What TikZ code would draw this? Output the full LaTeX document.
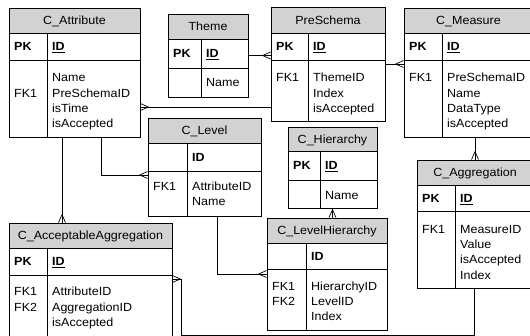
\documentclass[tikz,border=0pt]{standalone}
\usepackage{fontspec}
\setmainfont{Liberation Sans}[FakeStretch=1.06]
\usetikzlibrary{fit}
\definecolor{hdr}{RGB}{210,210,210}
\tikzset{
  tblline/.style={line width=0.8pt, draw=black},
  tblbox/.style={draw=black, line width=0.8pt, inner sep=0pt, rectangle},
  conn/.style={draw=black, line width=0.7pt},
  txt/.style={inner sep=0pt, font=\fontsize{11.8}{15}\selectfont},
  bf/.style={txt, font=\fontsize{11.8}{15}\selectfont\bfseries}
}
% #1 id, #2 x0, #3 y0, #4 x1, #5 y1, #6 xd, #7 yh, #8 yk, #9 title
\newcommand\ertable[9]{%
  \fill[hdr] (#2,#3) rectangle (#4,#7);
  \draw[tblline] (#2,#7) -- (#4,#7) (#2,#8) -- (#4,#8) (#6,#7) -- (#6,#5);
  \node[tblbox, fit={(#2,#3) (#4,#5)}] (#1) {};
  \node[txt, anchor=base] (#1-title) at ({(#2+#4)/2},{(#3+#7)/2+4.3}) {#9};
}
% #1 id, #2 x0, #3 xd, #4 baseline y, #5 pk text, #6 id text
\newcommand\keyrow[6]{%
  \node[bf, anchor=base west] (#1-pk) at ({#2+5},#4) {#5};
  \node[bf, anchor=base west] (#1-id) at ({#3+5},#4) {#6};
}
% #1 id, #2 x, #3 first baseline, #4 list
\newcommand\lines[4]{%
  \foreach \t [count=\i from 0] in {#4}
    \node[txt, anchor=base west] (#1-\i) at (#2,{#3+15.2*\i}) {\t};
}
\newcommand\crowft[2]{%
  \draw[conn, shift={(#1)}, rotate=#2] (-8,0) -- (0,3.5) (-8,0) -- (0,-3.5);
}
\begin{document}
\begin{tikzpicture}[x=1pt, y=-1pt]
\path[use as bounding box] (0,0) rectangle (530,336);
\clip (0,0) rectangle (530,336);
\fill[white] (0,0) rectangle (530,336);

% C_Attribute
\ertable{attr}{9}{8}{140}{137}{47}{33}{60}{C\_Attribute}
\keyrow{attr}{9}{47}{51}{PK}{\underline{ID}}
\lines{attrf}{52}{82}{Name,PreSchemaID,isTime,isAccepted}
\node[txt, anchor=base west] (attr-fk) at (14,97.2) {FK1};

% Theme
\ertable{theme}{168}{14}{248}{97}{201}{39}{68}{Theme}
\keyrow{theme}{168}{201}{58}{PK}{\underline{ID}}
\node[txt, anchor=base west] (theme-name) at (206,87) {Name};

% PreSchema
\ertable{pre}{271}{7}{385}{121}{308}{33}{60}{PreSchema}
\keyrow{pre}{271}{308}{51}{PK}{\underline{ID}}
\lines{pref}{313}{82}{ThemeID,Index,isAccepted}
\node[txt, anchor=base west] (pre-fk) at (276,82) {FK1};

% C_Measure
\ertable{meas}{404}{8}{533}{137}{442}{33}{60}{C\_Measure}
\keyrow{meas}{404}{442}{51}{PK}{\underline{ID}}
\lines{measf}{447}{82}{PreSchemaID,Name,DataType,isAccepted}
\node[txt, anchor=base west] (meas-fk) at (409,82) {FK1};

% C_Level
\ertable{level}{148}{118}{261}{216}{187}{143}{171}{C\_Level}
\node[bf, anchor=base west] (level-id) at (192,161.5) {ID};
\lines{levelf}{192}{190.5}{AttributeID,Name}
\node[txt, anchor=base west] (level-fk) at (153,190.5) {FK1};

% C_Hierarchy
\ertable{hier}{288}{127}{377}{208}{320}{151}{180}{C\_Hierarchy}
\keyrow{hier}{288}{320}{170}{PK}{\underline{ID}}
\node[txt, anchor=base west] (hier-name) at (325,200) {Name};

% C_Aggregation
\ertable{agg}{417}{160}{533}{288}{455}{185}{211}{C\_Aggregation}
\keyrow{agg}{417}{455}{202.5}{PK}{\underline{ID}}
\lines{aggf}{460}{233.5}{MeasureID,Value,isAccepted,Index}
\node[txt, anchor=base west] (agg-fk) at (422,233.5) {FK1};

% C_AcceptableAggregation
\ertable{accagg}{9}{223}{172}{345}{47}{248}{275}{C\_AcceptableAggregation}
\keyrow{accagg}{9}{47}{266}{PK}{\underline{ID}}
\lines{accaggf}{52}{296}{AttributeID,AggregationID,isAccepted}
\lines{accaggk}{14}{296}{FK1,FK2}

% C_LevelHierarchy
\ertable{lh}{267}{218}{387}{330}{306}{243}{269}{C\_LevelHierarchy}
\node[bf, anchor=base west] (lh-id) at (311,260.5) {ID};
\lines{lhf}{311}{290.5}{HierarchyID,LevelID,Index}
\lines{lhk}{272}{290.5}{FK1,FK2}

% junction coordinates
\coordinate (j3) at (0,107);
\coordinate (j4) at (475,0);
\coordinate (j5) at (62,0);
\coordinate (j6) at (101,175);
\coordinate (j7) at (217,274);
\coordinate (j9a) at (474,335);
\coordinate (j9b) at (181,279);

% connectors
\draw[conn] (theme.east) -- (pre.west |- theme.east);
\crowft{pre.west |- theme.east}{0}
\draw[conn] (pre.east) -- (meas.west |- pre.east);
\crowft{meas.west |- pre.east}{0}
\draw[conn] (pre.west |- j3) -- (attr.east |- j3);
\crowft{attr.east |- j3}{180}
\draw[conn] (meas.south -| j4) -- (agg.north -| j4);
\crowft{agg.north -| j4}{-90}
\draw[conn] (attr.south -| j5) -- (accagg.north -| j5);
\crowft{accagg.north -| j5}{-90}
\draw[conn] (attr.south -| j6) -- (j6) -- (level.west |- j6);
\crowft{level.west |- j6}{0}
\draw[conn] (level.south -| j7) -- (j7) -- (lh.west |- j7);
\crowft{lh.west |- j7}{0}
\draw[conn] (hier.south) -- (lh.north -| hier.south);
\crowft{lh.north -| hier.south}{-90}
\draw[conn] (agg.south -| j9a) -- (j9a) -- (j9b |- j9a) -- (j9b) -- (accagg.east |- j9b);
\crowft{accagg.east |- j9b}{180}
\end{tikzpicture}
\end{document}
